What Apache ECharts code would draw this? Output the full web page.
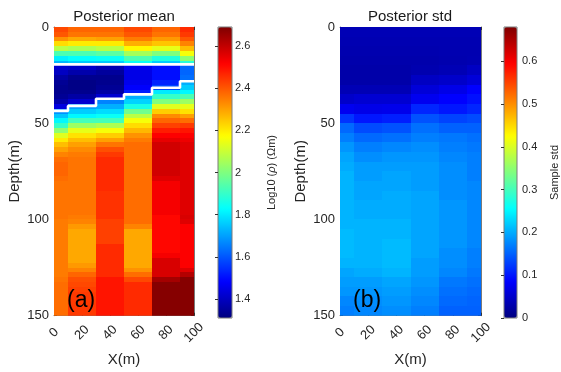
<!DOCTYPE html>
<html>
<head>
<meta charset="utf-8">
<script src="https://cdn.jsdelivr.net/npm/echarts@6/dist/echarts.min.js"></script>
<style>html,body{margin:0;padding:0;background:#fff;}#c{width:561px;height:372px;}</style>
</head>
<body>
<div id="c"></div>
<script>
// ---- categories / axes ----
const xCenters = [0, 20, 40, 60, 80, 100];          // X(m) of model columns
const xTicks = [0, 20, 40, 60, 80, 100];
const depthTicks = [0, 50, 100, 150];
const meanStep = 2.5;   // depth spacing of mean rows (m)
const stdStep = 5;      // depth spacing of std rows (m)
const meanTicks = [1.4, 1.6, 1.8, 2, 2.2, 2.4, 2.6];
const stdTicks = [0, 0.1, 0.2, 0.3, 0.4, 0.5, 0.6];
const meanRange = [1.31, 2.69];
const stdRange = [0, 0.68];

// ---- posterior mean, log10(rho), one array per column (rows every 2.5 m) ----
const mean0 = [2.42,2.40,2.32,2.22,2.08,1.93,1.81,1.73,
  1.42,1.40,1.36,1.34,1.33,1.33,1.34,1.37,1.44,1.68,
  1.75,1.82,1.90,2.02,2.13,2.20,2.26,2.30,2.34,2.37,
  2.38,2.38,2.38,2.37,2.36,2.36,2.36,2.36,2.36,2.36,
  2.36,2.36,2.35,2.35,2.35,2.35,2.35,2.35,2.35,2.35,
  2.35,2.35,2.35,2.35,2.36,2.37,2.37,2.37,2.37,2.37,2.37,2.37];
const mean20 = [2.38,2.36,2.29,2.20,2.06,1.93,1.83,1.76,
  1.41,1.37,1.33,1.32,1.32,1.33,1.36,1.42,1.70,1.76,
  1.82,1.92,2.04,2.14,2.21,2.26,2.30,2.33,2.35,2.36,
  2.36,2.36,2.36,2.36,2.36,2.36,2.36,2.36,2.36,2.36,
  2.36,2.35,2.34,2.31,2.29,2.29,2.29,2.29,2.29,2.29,
  2.29,2.31,2.34,2.38,2.41,2.42,2.43,2.44,2.44,2.44,2.44,2.44];
const mean40 = [2.38,2.36,2.30,2.20,2.08,1.95,1.84,1.76,
  1.38,1.35,1.33,1.33,1.34,1.36,1.42,1.66,1.72,1.78,
  1.84,1.92,2.06,2.16,2.24,2.30,2.36,2.41,2.44,2.46,
  2.46,2.46,2.46,2.46,2.46,2.46,2.45,2.45,2.45,2.45,
  2.45,2.45,2.43,2.43,2.43,2.43,2.43,2.46,2.46,2.46,
  2.46,2.46,2.46,2.46,2.49,2.49,2.49,2.49,2.49,2.49,2.49,2.49];
const mean60 = [2.42,2.40,2.35,2.28,2.18,2.05,1.93,1.84,
  1.46,1.45,1.45,1.46,1.48,1.52,1.72,1.77,1.86,1.98,
  2.08,2.16,2.22,2.27,2.32,2.35,2.37,2.37,2.37,2.37,
  2.37,2.37,2.37,2.37,2.37,2.37,2.37,2.37,2.37,2.37,
  2.37,2.37,2.37,2.34,2.29,2.29,2.29,2.29,2.29,2.29,
  2.29,2.29,2.32,2.37,2.42,2.46,2.46,2.46,2.46,2.46,2.46,2.46];
const mean80 = [2.38,2.36,2.31,2.25,2.14,2.00,1.87,1.76,
  1.50,1.50,1.50,1.53,1.58,1.80,1.90,2.00,2.13,2.24,
  2.33,2.38,2.43,2.48,2.52,2.55,2.58,2.58,2.58,2.58,
  2.58,2.58,2.58,2.56,2.53,2.53,2.53,2.53,2.53,2.53,
  2.53,2.51,2.51,2.51,2.51,2.51,2.51,2.51,2.51,2.53,
  2.57,2.57,2.57,2.57,2.64,2.68,2.68,2.68,2.68,2.68,2.68,2.68];
const mean100 = [2.46,2.44,2.40,2.34,2.26,2.16,2.02,1.88,
  1.62,1.62,1.63,1.72,1.76,1.82,1.93,2.04,2.14,2.21,
  2.30,2.37,2.44,2.49,2.52,2.54,2.56,2.56,2.56,2.56,
  2.56,2.56,2.56,2.56,2.56,2.56,2.56,2.56,2.56,2.56,
  2.56,2.57,2.56,2.52,2.52,2.52,2.52,2.52,2.52,2.52,
  2.52,2.52,2.56,2.62,2.68,2.68,2.68,2.68,2.68,2.68,2.68,2.68];

// ---- posterior std, one array per column (rows every 5 m) ----
const std0 = [0.036,0.034,0.032,0.030,0.028,0.028,0.036,0.050,0.075,0.120,
  0.155,0.170,0.185,0.195,0.200,0.205,0.205,0.205,0.205,0.205,
  0.205,0.210,0.210,0.210,0.205,0.195,0.190,0.185,0.175,0.170];
const std20 = [0.036,0.034,0.032,0.030,0.028,0.028,0.036,0.055,0.070,0.100,
  0.135,0.155,0.170,0.180,0.190,0.190,0.195,0.195,0.200,0.200,
  0.205,0.205,0.205,0.205,0.205,0.200,0.190,0.185,0.180,0.175];
const std40 = [0.036,0.034,0.032,0.030,0.028,0.028,0.036,0.055,0.072,0.105,
  0.140,0.160,0.175,0.185,0.190,0.195,0.195,0.200,0.200,0.200,
  0.205,0.205,0.210,0.210,0.210,0.205,0.195,0.190,0.185,0.180];
const std60 = [0.036,0.034,0.032,0.030,0.032,0.045,0.060,0.075,0.110,0.140,
  0.160,0.170,0.180,0.185,0.190,0.190,0.190,0.195,0.195,0.195,
  0.195,0.195,0.195,0.195,0.190,0.190,0.185,0.180,0.175,0.170];
const std80 = [0.036,0.034,0.033,0.032,0.036,0.050,0.070,0.085,0.100,0.130,
  0.150,0.165,0.170,0.175,0.180,0.180,0.180,0.180,0.185,0.185,
  0.185,0.185,0.185,0.180,0.180,0.175,0.165,0.160,0.155,0.150];
const std100 = [0.036,0.034,0.033,0.034,0.045,0.060,0.085,0.095,0.110,0.135,
  0.150,0.160,0.165,0.170,0.170,0.170,0.175,0.175,0.175,0.175,
  0.175,0.175,0.175,0.170,0.170,0.165,0.160,0.155,0.152,0.150];

// ---- layer interfaces (depth, m) per column ----
const interface1 = [19.4, 19.4, 19.4, 19.4, 19.4, 19.4];
const interface2 = [43.6, 41.0, 37.3, 35.0, 31.6, 28.2];

// ---- build library inputs ----
const halfW = (xCenters[1] - xCenters[0]) / 2;
const xMin = xTicks[0], xMax = xTicks[xTicks.length - 1];
function colEdges(i) {
  return [Math.max(xMin, xCenters[i] - halfW), Math.min(xMax, xCenters[i] + halfW)];
}
function cells(cols, step) {
  const out = [];
  cols.forEach((arr, ci) => {
    const [x0, x1] = colEdges(ci);
    arr.forEach((v, ri) => out.push([x0, x1, ri * step, (ri + 1) * step, v]));
  });
  return out;
}
function stepLine(depths) {
  const out = [];
  depths.forEach((d, ci) => {
    const [x0, x1] = colEdges(ci);
    out.push([x0, d], [x1, d]);
  });
  return out;
}
const meanData = cells([mean0, mean20, mean40, mean60, mean80, mean100], meanStep);
const stdData = cells([std0, std20, std40, std60, std80, std100], stdStep);

const jet = ['#00007F','#0000FF','#007FFF','#00FFFF','#7FFF7F','#FFFF00','#FF7F00','#FF0000','#7F0000'];
const FONT = '"Liberation Sans", Arial, Helvetica, sans-serif';
const TXT = '#262626';

function renderCell(params, api) {
  const p0 = api.coord([api.value(0), api.value(2)]);
  const p1 = api.coord([api.value(1), api.value(3)]);
  const xa = Math.round(Math.min(p0[0], p1[0])), xb = Math.round(Math.max(p0[0], p1[0]));
  const ya = Math.round(Math.min(p0[1], p1[1])), yb = Math.round(Math.max(p0[1], p1[1]));
  return {
    type: 'rect',
    shape: { x: xa, y: ya, width: xb - xa, height: yb - ya },
    style: { fill: api.visual('color') }
  };
}

const plotGrids = [
  { left: 54, top: 27, width: 140, height: 291 },
  { left: 340, top: 27, width: 141, height: 291 }
];
const cbGrids = [
  { left: 218, top: 27, width: 14, height: 291 },
  { left: 504, top: 27, width: 13, height: 291 }
];

const lineStyle = { color: '#7a7a7a', width: 1 };
const tickStyle = { color: '#333', width: 1 };

function xAxes(gi) {
  return [
    { type: 'value', gridIndex: gi, position: 'bottom', min: xMin, max: xMax, interval: 20,
      name: 'X(m)', nameLocation: 'middle', nameGap: 35,
      nameTextStyle: { fontSize: 15, color: TXT, fontFamily: FONT },
      axisLine: { show: true, onZero: false, lineStyle },
      axisTick: { show: true, inside: true, length: 3, lineStyle: tickStyle },
      axisLabel: { rotate: 45, margin: 17, align: 'center', verticalAlign: 'middle',
        fontSize: 13, color: TXT, fontFamily: FONT },
      splitLine: { show: false } },
    { type: 'value', gridIndex: gi, position: 'top', min: xMin, max: xMax, interval: 20,
      axisLine: { show: true, onZero: false, lineStyle },
      axisTick: { show: true, inside: true, length: 3, lineStyle: tickStyle },
      axisLabel: { show: false }, splitLine: { show: false } }
  ];
}
function yAxes(gi) {
  return [
    { type: 'value', gridIndex: gi, position: 'left', inverse: true, min: 0, max: 150, interval: 50,
      name: 'Depth(m)', nameLocation: 'middle', nameGap: 32,
      nameTextStyle: { fontSize: 15, color: TXT, fontFamily: FONT },
      axisLine: { show: true, onZero: false, lineStyle },
      axisTick: { show: true, inside: true, length: 3, lineStyle: tickStyle },
      axisLabel: { margin: 5, fontSize: 13, color: TXT, fontFamily: FONT },
      splitLine: { show: false } },
    { type: 'value', gridIndex: gi, position: 'right', inverse: true, min: 0, max: 150, interval: 50,
      axisLine: { show: true, onZero: false, lineStyle },
      axisTick: { show: true, inside: true, length: 3, lineStyle: tickStyle },
      axisLabel: { show: false }, splitLine: { show: false } }
  ];
}

const option = {
  animation: false,
  backgroundColor: '#ffffff',
  title: [
    { text: 'Posterior mean', left: 124, top: 9, textAlign: 'center', padding: 0,
      textStyle: { fontSize: 15, fontWeight: 'normal', color: '#1a1a1a', fontFamily: FONT } },
    { text: 'Posterior std', left: 410, top: 9, textAlign: 'center', padding: 0,
      textStyle: { fontSize: 15, fontWeight: 'normal', color: '#1a1a1a', fontFamily: FONT } }
  ],
  grid: [
    Object.assign({}, plotGrids[0]),
    Object.assign({}, plotGrids[1]),
    Object.assign({ show: true, borderColor: '#7a7a7a', borderWidth: 1, backgroundColor: 'transparent', z: 10 }, cbGrids[0]),
    Object.assign({ show: true, borderColor: '#7a7a7a', borderWidth: 1, backgroundColor: 'transparent', z: 10 }, cbGrids[1])
  ],
  xAxis: [].concat(xAxes(0), xAxes(1), [
    { type: 'value', gridIndex: 2, show: false, min: 0, max: 1 },
    { type: 'value', gridIndex: 3, show: false, min: 0, max: 1 }
  ]),
  yAxis: [].concat(yAxes(0), yAxes(1), [
    { type: 'value', gridIndex: 2, position: 'right', min: meanRange[0], max: meanRange[1], z: 10,
      name: 'Log10 ({i|ρ}) (Ωm)', nameLocation: 'middle', nameRotate: 90, nameGap: 34,
      nameTextStyle: { fontSize: 11, color: TXT, fontFamily: FONT,
        rich: { i: { fontStyle: 'italic', fontSize: 11, color: TXT, fontFamily: FONT } } },
      axisLine: { show: false },
      axisTick: { show: true, inside: true, length: 3, lineStyle: tickStyle, customValues: meanTicks },
      axisLabel: { margin: 3, fontSize: 11, color: TXT, fontFamily: FONT, customValues: meanTicks },
      splitLine: { show: false } },
    { type: 'value', gridIndex: 3, position: 'right', min: stdRange[0], max: stdRange[1], z: 10,
      name: 'Sample std', nameLocation: 'middle', nameRotate: 90, nameGap: 32,
      nameTextStyle: { fontSize: 11, color: TXT, fontFamily: FONT },
      axisLine: { show: false },
      axisTick: { show: true, inside: true, length: 3, lineStyle: tickStyle, customValues: stdTicks },
      axisLabel: { margin: 5, fontSize: 11, color: TXT, fontFamily: FONT, customValues: stdTicks },
      splitLine: { show: false } }
  ]),
  visualMap: [
    { type: 'continuous', seriesIndex: 0, dimension: 4, min: meanRange[0], max: meanRange[1],
      inRange: { color: jet }, calculable: false, hoverLink: false, text: null, showLabel: false,
      left: cbGrids[0].left, top: cbGrids[0].top, itemWidth: cbGrids[0].width, itemHeight: cbGrids[0].height,
      padding: 0, orient: 'vertical' },
    { type: 'continuous', seriesIndex: 1, dimension: 4, min: stdRange[0], max: stdRange[1],
      inRange: { color: jet }, calculable: false, hoverLink: false, text: null, showLabel: false,
      left: cbGrids[1].left, top: cbGrids[1].top, itemWidth: cbGrids[1].width, itemHeight: cbGrids[1].height,
      padding: 0, orient: 'vertical' }
  ],
  graphic: [
    { type: 'text', left: 67, top: 289, z: 20, style: { text: '(a)', font: '23px ' + FONT, fill: '#000' } },
    { type: 'text', left: 353, top: 289, z: 20, style: { text: '(b)', font: '23px ' + FONT, fill: '#000' } }
  ],
  series: [
    { type: 'custom', xAxisIndex: 0, yAxisIndex: 0, renderItem: renderCell, data: meanData,
      encode: { x: [0, 1], y: [2, 3] }, clip: true, silent: true },
    { type: 'custom', xAxisIndex: 2, yAxisIndex: 2, renderItem: renderCell, data: stdData,
      encode: { x: [0, 1], y: [2, 3] }, clip: true, silent: true },
    { type: 'line', xAxisIndex: 0, yAxisIndex: 0, data: stepLine(interface1), showSymbol: false, symbol: 'none',
      lineStyle: { color: '#ffffff', width: 2.6 }, z: 5, silent: true, clip: true },
    { type: 'line', xAxisIndex: 0, yAxisIndex: 0, data: stepLine(interface2), showSymbol: false, symbol: 'none',
      lineStyle: { color: '#ffffff', width: 2.6 }, z: 5, silent: true, clip: true }
  ]
};

const chart = echarts.init(document.getElementById('c'), null, { renderer: 'canvas' });
chart.setOption(option);
</script>
</body>
</html>
